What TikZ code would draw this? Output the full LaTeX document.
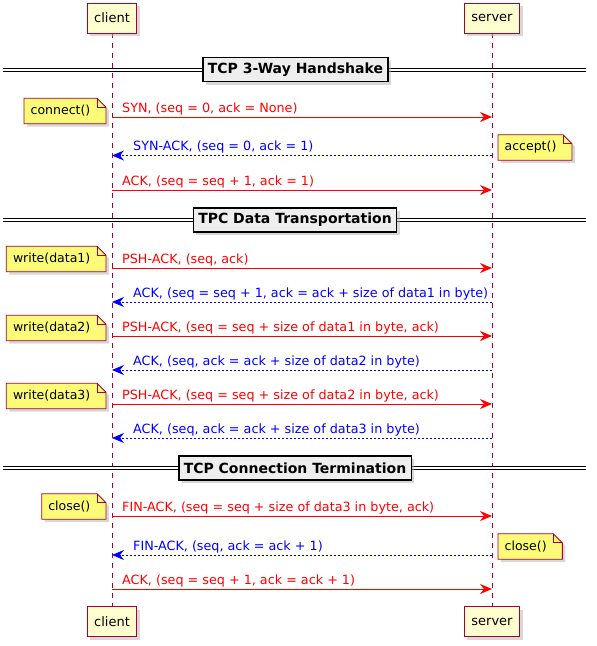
\documentclass[tikz,border=0pt]{standalone}
\usepackage{fontspec}
\setmainfont{DejaVu Sans}
\usetikzlibrary{positioning,shapes,shadows,arrows.meta,backgrounds}

\definecolor{umlred}{HTML}{A80036}
\definecolor{umlbeige}{HTML}{FEFECE}
\definecolor{umlnote}{HTML}{FBFB77}
\definecolor{umlgray}{HTML}{EEEEEE}

\tikzset{
  umlfont/.style={font=\fontsize{12.75}{15}\selectfont},
  party/.style={font=\fontsize{13}{15}\selectfont, draw=umlred, fill=umlbeige, line width=0.8pt, minimum height=30pt, inner xsep=7pt,
    drop shadow={shadow xshift=3pt, shadow yshift=-3pt, fill=black!30}},
  lifeline/.style={draw=umlred, line width=0.8pt, dash pattern=on 5pt off 5pt},
  req/.style={draw=red, line width=0.9pt, -{Stealth[length=12pt,width=10pt,inset=4pt]}},
  resp/.style={draw=blue, line width=0.8pt, dash pattern=on 2pt off 2pt, -{Stealth[length=12pt,width=10pt,inset=4pt]}},
  reqlabel/.style={umlfont, text=red, anchor=base west, inner sep=0pt},
  resplabel/.style={umlfont, text=blue, anchor=base west, inner sep=0pt},
  notebox/.style={font=\fontsize{12.5}{15}\selectfont, inner xsep=6.5pt, inner ysep=0pt, minimum height=25pt},
  noteline/.style={draw=umlred, line width=0.8pt},
  divider/.style={font=\fontsize{14}{16}\selectfont\bfseries, draw=black, fill=umlgray, line width=1.5pt,
    minimum height=24pt, inner xsep=5pt, drop shadow={shadow xshift=3pt, shadow yshift=-3pt, fill=black!30}},
  dline/.style={draw=black, double=white, double distance=2pt, line width=0.9pt}
}

\newcommand\foldnote[1]{%
  \begin{scope}[on background layer]
  \filldraw[noteline, fill=umlnote, drop shadow={shadow xshift=3pt, shadow yshift=-3pt, fill=black!30}]
    (#1.south west) -- (#1.north west) -- ([xshift=-9pt]#1.north east) -- ([yshift=-9pt]#1.north east) -- (#1.south east) -- cycle;
  \draw[noteline] ([xshift=-9pt]#1.north east) -- ([xshift=-9pt,yshift=-9pt]#1.north east) -- ([yshift=-9pt]#1.north east);
  \end{scope}}

\begin{document}
\begin{tikzpicture}[x=1pt,y=1pt]
\useasboundingbox (0,0) rectangle (597,-646);

\node[party] (clientTop) at (112,-18) {client};
\node[party] (serverTop) at (492,-18) {server};
\node[party] (clientBot) at (112,-621.5) {client};
\node[party] (serverBot) at (492,-621.5) {server};

\begin{scope}[on background layer]
\draw[lifeline] (clientTop.south) -- (clientBot.north);
\draw[lifeline] (serverTop.south) -- (serverBot.north);
\end{scope}

\draw[dline] (3,-70) -- (586,-70);
\node[divider] (phase1) at (295.5,-69.5) {TCP 3-Way Handshake};
\draw[dline] (3,-220) -- (586,-220);
\node[divider] (phase2) at (295,-220) {TPC Data Transportation};
\draw[dline] (3,-468) -- (586,-468);
\node[divider] (phase3) at (295,-468) {TCP Connection Termination};

\coordinate (c1) at (112,-117);   \coordinate (s1) at (492,-117);
\coordinate (c2) at (112,-155.5); \coordinate (s2) at (492,-155.5);
\coordinate (c3) at (112,-190);   \coordinate (s3) at (492,-190);
\coordinate (c4) at (112,-268);   \coordinate (s4) at (492,-268);
\coordinate (c5) at (112,-302);   \coordinate (s5) at (492,-302);
\coordinate (c6) at (112,-336);   \coordinate (s6) at (492,-336);
\coordinate (c7) at (112,-370);   \coordinate (s7) at (492,-370);
\coordinate (c8) at (112,-404);   \coordinate (s8) at (492,-404);
\coordinate (c9) at (112,-438);   \coordinate (s9) at (492,-438);
\coordinate (c10) at (112,-516);  \coordinate (s10) at (492,-516);
\coordinate (c11) at (112,-555);  \coordinate (s11) at (492,-555);
\coordinate (c12) at (112,-589);  \coordinate (s12) at (492,-589);

\draw[req] (c1) -- (s1);
\node[reqlabel] (m1) at ([xshift=10pt,yshift=5pt]c1) {SYN, (seq = 0, ack = None)};
\draw[resp] (s2) -- (c2);
\node[resplabel] (m2) at ([xshift=21pt,yshift=5pt]c2) {SYN-ACK, (seq = 0, ack = 1)};
\draw[req] (c3) -- (s3);
\node[reqlabel] (m3) at ([xshift=10pt,yshift=5pt]c3) {ACK, (seq = seq + 1, ack = 1)};

\draw[req] (c4) -- (s4);
\node[reqlabel] (m4) at ([xshift=10pt,yshift=5pt]c4) {PSH-ACK, (seq, ack)};
\draw[resp] (s5) -- (c5);
\node[resplabel] (m5) at ([xshift=21pt,yshift=5pt]c5) {ACK, (seq = seq + 1, ack = ack + size of data1 in byte)};
\draw[req] (c6) -- (s6);
\node[reqlabel] (m6) at ([xshift=10pt,yshift=5pt]c6) {PSH-ACK, (seq = seq + size of data1 in byte, ack)};
\draw[resp] (s7) -- (c7);
\node[resplabel] (m7) at ([xshift=21pt,yshift=5pt]c7) {ACK, (seq, ack = ack + size of data2 in byte)};
\draw[req] (c8) -- (s8);
\node[reqlabel] (m8) at ([xshift=10pt,yshift=5pt]c8) {PSH-ACK, (seq = seq + size of data2 in byte, ack)};
\draw[resp] (s9) -- (c9);
\node[resplabel] (m9) at ([xshift=21pt,yshift=5pt]c9) {ACK, (seq, ack = ack + size of data3 in byte)};

\draw[req] (c10) -- (s10);
\node[reqlabel] (m10) at ([xshift=10pt,yshift=5pt]c10) {FIN-ACK, (seq = seq + size of data3 in byte, ack)};
\draw[resp] (s11) -- (c11);
\node[resplabel] (m11) at ([xshift=21pt,yshift=5pt]c11) {FIN-ACK, (seq, ack = ack + 1)};
\draw[req] (c12) -- (s12);
\node[reqlabel] (m12) at ([xshift=10pt,yshift=5pt]c12) {ACK, (seq = seq + 1, ack = ack + 1)};

\node[notebox, anchor=east] (connect) at (106,-111) {connect()\hspace*{9pt}};
\foldnote{connect}
\node[notebox, anchor=west] (accept) at (498,-147.5) {accept()\hspace*{9pt}};
\foldnote{accept}
\node[notebox, anchor=east] (write1) at (106,-259) {write(data1)\hspace*{9pt}};
\foldnote{write1}
\node[notebox, anchor=east] (write2) at (106,-328) {write(data2)\hspace*{9pt}};
\foldnote{write2}
\node[notebox, anchor=east] (write3) at (106,-396) {write(data3)\hspace*{9pt}};
\foldnote{write3}
\node[notebox, anchor=east] (closeC) at (106,-506.5) {close()\hspace*{9pt}};
\foldnote{closeC}
\node[notebox, anchor=west] (closeS) at (498,-546.5) {close()\hspace*{9pt}};
\foldnote{closeS}
\end{tikzpicture}
\end{document}
